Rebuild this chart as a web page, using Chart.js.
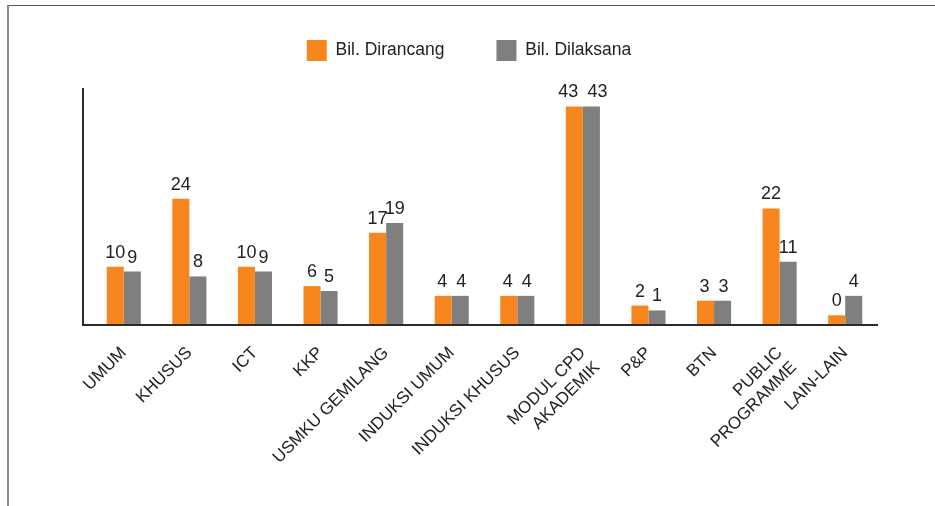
<!DOCTYPE html>
<html>
<head>
<meta charset="utf-8">
<script src="https://cdn.jsdelivr.net/npm/chart.js@4.4.1/dist/chart.umd.min.js"></script>
<style>
    html, body { margin: 0; padding: 0; background: #fff; }
    #wrap { position: relative; width: 935px; height: 506px; overflow: hidden; }
    #frameTop { position: absolute; left: 7px; top: 5px; width: 940px; height: 1px; background: #555; }
    #frameLeft { position: absolute; left: 7px; top: 5px; width: 2px; height: 520px; background: #8a8a8a; }
    #myChart { position: absolute; left: 0; top: 0; }
</style>
</head>
<body>
<div id="wrap">
    <div id="frameTop"></div>
    <div id="frameLeft"></div>
    <canvas id="myChart" width="935" height="506"></canvas>
</div>
<script>
const categories = [
    'UMUM', 'KHUSUS', 'ICT', 'KKP', 'USMKU GEMILANG', 'INDUKSI UMUM',
    'INDUKSI KHUSUS', ['MODUL CPD', 'AKADEMIK'], 'P&P', 'BTN',
    ['PUBLIC', 'PROGRAMME'], 'LAIN-LAIN'
];
const dirancang = [10, 24, 10, 6, 17, 4, 4, 43, 2, 3, 22, 0];
const dilaksana = [9, 8, 9, 5, 19, 4, 4, 43, 1, 3, 11, 4];

const yMin = -2;
const yMax = 46.8;

// axis lines (y axis sits a bit left of the first category)
const axisLines = {
    id: 'axisLines',
    afterDraw(chart) {
        const ctx = chart.ctx;
        const a = chart.chartArea;
        ctx.save();
        ctx.strokeStyle = '#2a2a2a';
        ctx.lineWidth = 2;
        ctx.beginPath();
        ctx.moveTo(83, a.top);
        ctx.lineTo(83, a.bottom);
        ctx.lineTo(a.right, a.bottom);
        ctx.stroke();
        ctx.restore();
    }
};

// value labels above each bar, pushed apart when two sit level and collide
const valueLabels = {
    id: 'valueLabels',
    afterDatasetsDraw(chart) {
        const ctx = chart.ctx;
        ctx.save();
        ctx.font = '18px "Liberation Sans", Arial, sans-serif';
        ctx.fillStyle = '#222';
        ctx.textAlign = 'center';
        ctx.textBaseline = 'alphabetic';
        const m0 = chart.getDatasetMeta(0).data;
        const m1 = chart.getDatasetMeta(1).data;
        m0.forEach((b0, j) => {
            const b1 = m1[j];
            const t0 = String(dirancang[j]);
            const t1 = String(dilaksana[j]);
            let x0 = b0.x, x1 = b1.x;
            if (Math.abs(b0.y - b1.y) < 2) {
                const gap = (x1 - ctx.measureText(t1).width / 2) - (x0 + ctx.measureText(t0).width / 2);
                if (gap < 9) {
                    x0 -= (9 - gap) / 2;
                    x1 += (9 - gap) / 2;
                }
            }
            ctx.fillText(t0, x0, b0.y - 9);
            ctx.fillText(t1, x1, b1.y - 9);
        });
        ctx.restore();
    }
};

const legendSize = {
    id: 'legendSize',
    beforeInit(chart) {
        const fit = chart.legend.fit;
        chart.legend.fit = function () {
            fit.bind(chart.legend)();
            this.height = 100;
        };
    },
    afterLayout(chart) {
        chart.legend.left = 10;
        chart.legend.right = 928;
    }
};

const data = {
    labels: categories,
    datasets: [{
        label: 'Bil. Dirancang',
        data: dirancang,
        backgroundColor: '#F7861F',
        base: yMin,
        categoryPercentage: 0.52,
        barPercentage: 1.0
    }, {
        label: 'Bil. Dilaksana',
        data: dilaksana,
        backgroundColor: '#7F7F7F',
        base: yMin,
        categoryPercentage: 0.52,
        barPercentage: 1.0
    }]
};

const config = {
    type: 'bar',
    data,
    options: {
        responsive: false,
        animation: false,
        layout: {
            padding: { top: -12, left: 91, right: 57, bottom: 0 }
        },
        scales: {
            y: {
                display: false,
                min: yMin,
                max: yMax
            },
            x: {
                grid: { display: false },
                border: { display: false },
                ticks: {
                    minRotation: 45,
                    maxRotation: 45,
                    autoSkip: false,
                    padding: 10,
                    color: '#222',
                    font: { family: '"Liberation Sans", Arial, sans-serif', size: 17 }
                },
                afterFit(scale) {
                    scale.paddingLeft = 0;
                    scale.paddingRight = 0;
                    scale.height = 181;
                }
            }
        },
        plugins: {
            legend: {
                position: 'top',
                labels: {
                    boxWidth: 20,
                    boxHeight: 21,
                    padding: 52,
                    color: '#222',
                    font: { family: '"Liberation Sans", Arial, sans-serif', size: 17.5 }
                }
            },
            tooltip: { enabled: false }
        }
    },
    plugins: [legendSize, axisLines, valueLabels]
};

const myChart = new Chart(
    document.getElementById('myChart').getContext('2d'),
    config
);
</script>
</body>
</html>
